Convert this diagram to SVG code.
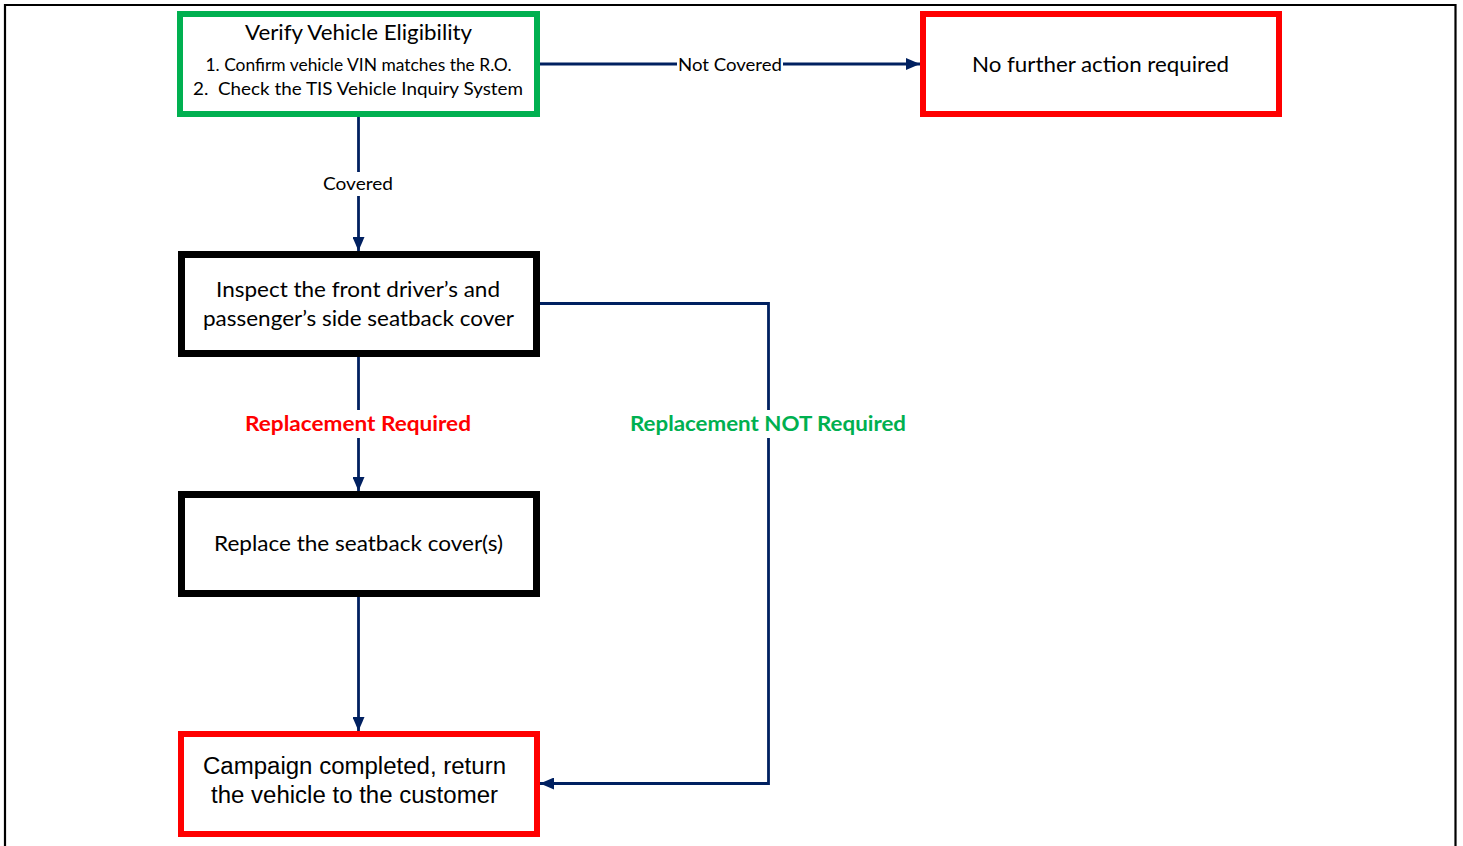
<svg xmlns="http://www.w3.org/2000/svg" width="1463" height="846" viewBox="0 0 1463 846">
<defs>
<style>
.t{font-family:Lato,"Open Sans","Liberation Sans",sans-serif;fill:#000;text-anchor:middle}
.a{font-family:"Liberation Sans",Arial,sans-serif;fill:#000;text-anchor:middle}
.c{fill:none;stroke:#002060;stroke-width:2.8}
.lb{font-family:Lato,"Open Sans","Liberation Sans",sans-serif;text-anchor:middle}
</style>
<marker id="ar" viewBox="0 0 14 12" refX="14" refY="6" markerWidth="14" markerHeight="12" markerUnits="userSpaceOnUse" orient="auto">
<path d="M0,0 L14,6 L0,12 z" fill="#002060"/>
</marker>
</defs>
<rect width="1463" height="846" fill="#fff"/>
<path d="M5,846 V5 H1455.5 V846" fill="none" stroke="#000" stroke-width="2.2"/>

<g id="connectors">
<path class="c" d="M540,64 H920" marker-end="url(#ar)"/>
<path class="c" d="M358.5,117 V251" marker-end="url(#ar)"/>
<path class="c" d="M358.5,357 V491" marker-end="url(#ar)"/>
<path class="c" d="M358.5,597 V731" marker-end="url(#ar)"/>
<path class="c" d="M540,303.5 H768.5 V783.5 H540" marker-end="url(#ar)"/>
<rect x="677" y="54" width="106" height="20" fill="#fff"/>
<text class="lb" x="730" y="70.5" font-size="18" textLength="104" lengthAdjust="spacingAndGlyphs">Not Covered</text>
<rect x="320" y="172" width="76" height="24" fill="#fff"/>
<text class="lb" x="358" y="189.5" font-size="18" textLength="70" lengthAdjust="spacingAndGlyphs">Covered</text>
<rect x="240" y="410" width="236" height="28" fill="#fff"/>
<text class="lb" x="358" y="431" font-size="21" font-weight="bold" fill="#ff0000" textLength="226" lengthAdjust="spacingAndGlyphs">Replacement Required</text>
<rect x="626" y="410" width="284" height="28" fill="#fff"/>
<text class="lb" x="768" y="431" font-size="21" font-weight="bold" fill="#00b050" textLength="276" lengthAdjust="spacingAndGlyphs">Replacement NOT Required</text>
</g>

<g id="verify">
<rect x="180" y="14" width="357" height="100" fill="#fff" stroke="#00b050" stroke-width="6"/>
<text class="t" x="358.5" y="40" font-size="21.5" textLength="227" lengthAdjust="spacingAndGlyphs">Verify Vehicle Eligibility</text>
<text class="t" x="358.5" y="71" font-size="16.5" textLength="306" lengthAdjust="spacingAndGlyphs">1. Confirm vehicle VIN matches the R.O.</text>
<text class="t" x="358" y="95" font-size="18" textLength="330" lengthAdjust="spacingAndGlyphs" xml:space="preserve">2.  Check the TIS Vehicle Inquiry System</text>
</g>

<g id="nofurther">
<rect x="923" y="14" width="356" height="100" fill="#fff" stroke="#ff0000" stroke-width="6"/>
<text class="t" x="1100.5" y="71.5" font-size="21.5" textLength="257" lengthAdjust="spacingAndGlyphs">No further action required</text>
</g>

<g id="inspect">
<rect x="181.5" y="254.5" width="355" height="99" fill="#fff" stroke="#000" stroke-width="7"/>
<text class="t" x="358" y="297" font-size="21.5" textLength="284" lengthAdjust="spacingAndGlyphs">Inspect the front driver’s and</text>
<text class="t" x="358.5" y="326" font-size="21.5" textLength="311" lengthAdjust="spacingAndGlyphs">passenger’s side seatback cover</text>
</g>

<g id="replace">
<rect x="181.5" y="494.5" width="355" height="99" fill="#fff" stroke="#000" stroke-width="7"/>
<text class="t" x="358.5" y="551" font-size="21.5" textLength="289" lengthAdjust="spacingAndGlyphs">Replace the seatback cover(s)</text>
</g>

<g id="campaign">
<rect x="181" y="734" width="356" height="100" fill="#fff" stroke="#ff0000" stroke-width="6"/>
<text class="a" x="354.5" y="774" font-size="23.5" textLength="303" lengthAdjust="spacingAndGlyphs">Campaign completed, return</text>
<text class="a" x="354.5" y="803" font-size="23.5" textLength="287" lengthAdjust="spacingAndGlyphs">the vehicle to the customer</text>
</g>
</svg>
